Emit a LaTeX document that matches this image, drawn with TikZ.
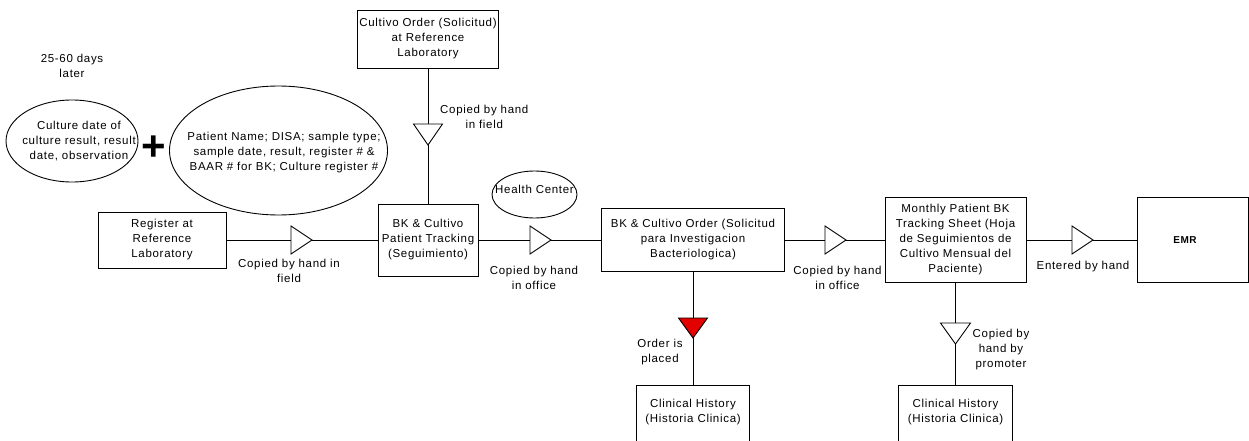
\documentclass[tikz,border=0pt]{standalone}
\usepackage{fontspec}
\newfontfamily\diagfont[LetterSpace=6]{Liberation Sans}
\usetikzlibrary{shapes.geometric,calc}
\definecolor{flagred}{RGB}{226,0,0}
\tikzset{
  txt/.style={font=\diagfont\fontsize{11.5}{15}\selectfont, align=center, inner sep=0pt},
  box/.style={txt, draw, line width=0.9pt},
  ell/.style={draw, ellipse, line width=0.9pt, inner sep=0pt},
  link/.style={line width=0.9pt},
  % minimum width = base, minimum height = base-to-apex length
  flow/.style={draw, fill=white, isosceles triangle, isosceles triangle stretches,
    inner sep=0pt, outer sep=0pt, line width=0.9pt, minimum width=28, minimum height=21},
  flowdown/.style={flow, rotate=-90},
}
\begin{document}
\begin{tikzpicture}[x=1pt,y=-1pt]
  % canvas
  \fill[white] (0,0) rectangle (1249,441);
  \useasboundingbox (0,0) rectangle (1249,441);
  \clip (0,0) rectangle (1249,441);

  % records
  \node[box, minimum width=141, minimum height=58] (cult) at (428,39)
    {Cultivo Order (Solicitud)\\at Reference\\Laboratory};
  \node[box, minimum width=128, minimum height=56] (reg) at (162,240)
    {Register at\\Reference\\Laboratory};
  \node[box, minimum width=100, minimum height=72] (track) at (428,240)
    {BK \& Cultivo\\Patient Tracking\\(Seguimiento)};
  \node[box, minimum width=183, minimum height=63] (order) at (693,240)
    {BK \& Cultivo Order (Solicitud\\para Investigacion\\Bacteriologica)};
  \node[box, minimum width=141, minimum height=85] (monthly) at (955.5,240)
    {Monthly Patient BK\\Tracking Sheet (Hoja\\de Seguimientos de\\Cultivo Mensual del\\Paciente)};
  \node[box, minimum width=111, minimum height=85] (emr) at (1192.5,240) {};
  \node[font=\diagfont\fontsize{10}{12}\selectfont\bfseries, inner sep=0pt] (emrt) at (1185,240) {EMR};
  \node[box, anchor=north, minimum width=113, minimum height=80] (ch1) at (693,385) {};
  \node[txt] (ch1t) at (693,412.5) {Clinical History\\(Historia Clinica)};
  \node[box, anchor=north, minimum width=114, minimum height=80] (ch2) at (955.5,385) {};
  \node[txt] (ch2t) at (955.5,412.5) {Clinical History\\(Historia Clinica)};

  % annotations
  \node[txt] (days) at (72,65.5) {25-60 days\\later};
  \node[ell, minimum width=132, minimum height=82] (e1) at (72,141) {};
  \node[txt] (e1t) at (79,141) {Culture date of\\culture result, result\\date, observation};
  \node[font=\diagfont\fontsize{42}{42}\selectfont\bfseries, inner sep=0pt] (plus) at (154,148.5) {+};
  \node[ell, minimum width=218, minimum height=129] (e2) at (278.5,150.5) {};
  \node[txt] (e2t) at (284,152.5)
    {Patient Name; DISA; sample type;\\sample date, result, register \# \&\\BAAR \# for BK; Culture register \#};
  \node[ell, minimum width=85, minimum height=47] (hc) at (534.5,194.5) {};
  \node[txt] (hct) at (534.5,189) {Health Center};

  % connectors
  \draw[link] (reg) -- (track);
  \draw[link] (track) -- (order);
  \draw[link] (order) -- (monthly);
  \draw[link] (monthly) -- (emr);
  \draw[link] (cult) -- (track);
  \draw[link] (order) -- (ch1);
  \draw[link] (monthly) -- (ch2);

  % transfer markers
  \node[flow, anchor=apex] (t1) at (312,240) {};
  \node[flow, anchor=apex] (t2) at (551,240) {};
  \node[flow, anchor=apex] (t3) at (846,240) {};
  \node[flow, anchor=apex] (t4) at (1093,240) {};
  \node[flowdown, anchor=apex, minimum width=29] (tc) at (428,145) {};
  \node[flowdown, anchor=apex, fill=flagred, minimum width=29, minimum height=20] (tr) at (693,338) {};
  \node[flowdown, anchor=apex, minimum width=30] (tm) at (955.5,344) {};

  % connector labels
  \node[txt] (l1) at (289,271) {Copied by hand in\\field};
  \node[txt] (l2) at (534,278) {Copied by hand\\in office};
  \node[txt] (l3) at (837.5,278) {Copied by hand\\in office};
  \node[txt] (l4) at (1083,267) {Entered by hand};
  \node[txt, anchor=west] (l5) at (440,117) {Copied by hand\\in field};
  \node[txt] (l6) at (660,352) {Order is\\placed};
  \node[txt] (l7) at (1001,349.5) {Copied by\\hand by\\promoter};
\end{tikzpicture}
\end{document}
